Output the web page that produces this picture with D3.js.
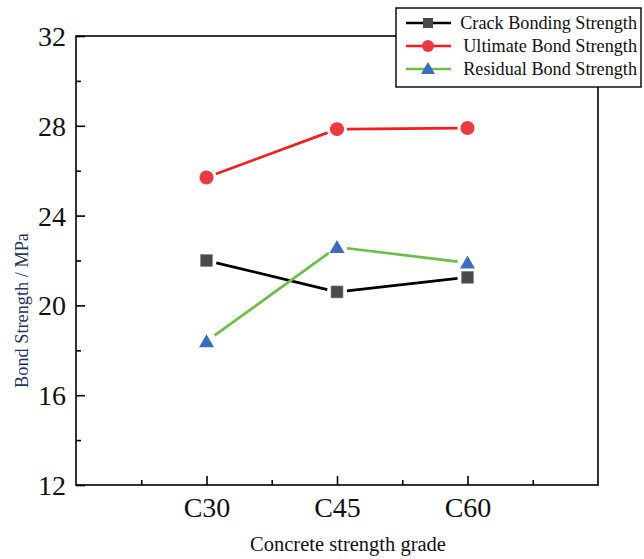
<!DOCTYPE html>
<html>
<head>
<meta charset="utf-8">
<script src="https://cdn.jsdelivr.net/npm/d3@7"></script>
<style>
  html, body { margin: 0; padding: 0; background: #fff; }
  svg { display: block; }
  svg text { font-family: "Liberation Serif", "Times New Roman", serif; }
</style>
</head>
<body>
<svg id="chart" width="644" height="559" font-family="Liberation Serif, serif"></svg>
<script>
// Concrete grades and bond strengths (MPa)
const grades = ["C30", "C45", "C60"];
const crackBonding = [22.0, 20.6, 21.25];
const ultimateBond = [25.7, 27.85, 27.9];
const residualBond = [18.4, 22.6, 21.9];
const yTicks = [12, 16, 20, 24, 28, 32];
const yMinorTicks = [14, 18, 22, 26, 30];

const seriesList = [
  { name: "Crack Bonding Strength", values: crackBonding, line: "#000000", fill: "#4a4a4a", shape: "square" },
  { name: "Ultimate Bond Strength", values: ultimateBond, line: "#f41e1e", fill: "#ee3a3f", shape: "circle" },
  { name: "Residual Bond Strength", values: residualBond, line: "#6cbf45", fill: "#3a6cc0", shape: "triangle" }
];

const svg = d3.select("#chart");
const frame = { left: 76, right: 598, top: 36, bottom: 485 };

const x = d3.scaleLinear().domain([0, grades.length + 1]).range([frame.left, frame.right]);
const y = d3.scaleLinear().domain([12, 32]).range([frame.bottom, frame.top]);

// plot frame
svg.append("rect")
  .attr("x", frame.left).attr("y", frame.top)
  .attr("width", frame.right - frame.left).attr("height", frame.bottom - frame.top)
  .attr("fill", "none").attr("stroke", "#000").attr("stroke-width", 1.6);

// left axis: inward major and minor ticks
const yAxis = svg.append("g").attr("transform", `translate(${frame.left},0)`)
  .call(d3.axisLeft(y).tickValues(yTicks).tickSize(-9).tickPadding(10).tickFormat(d3.format("d")));
svg.append("g").attr("transform", `translate(${frame.left},0)`)
  .call(d3.axisLeft(y).tickValues(yMinorTicks).tickSize(-5).tickFormat(""));

// bottom axis
const xAxis = svg.append("g").attr("transform", `translate(0,${frame.bottom})`)
  .call(d3.axisBottom(x).tickValues(grades.map((g, i) => i + 1)).tickSize(-9).tickPadding(13)
    .tickFormat((d) => grades[d - 1]));
svg.append("g").attr("transform", `translate(0,${frame.bottom})`)
  .call(d3.axisBottom(x).tickValues(d3.range(0.5, grades.length + 1, 1)).tickSize(-5).tickFormat(""));

svg.selectAll("g").attr("font-family", null).attr("font-size", null);
svg.selectAll(".domain").remove();
svg.selectAll(".tick line").attr("stroke", "#000").attr("stroke-width", 1.6);
svg.selectAll(".tick text").attr("fill", "#111").style("font-size", "28px");
yAxis.selectAll(".tick text").attr("dy", "0.34em");
xAxis.selectAll(".tick text").attr("dy", "0.68em");

// axis titles
svg.append("text")
  .attr("x", 348).attr("y", 551)
  .attr("text-anchor", "middle").attr("fill", "#111")
  .style("font-size", "20.5px")
  .text("Concrete strength grade");

svg.append("text")
  .attr("transform", `translate(28,${(frame.top + frame.bottom) / 2 + 50}) rotate(-90)`)
  .attr("text-anchor", "middle").attr("fill", "#1f3560")
  .style("font-size", "18.3px")
  .text("Bond Strength / MPa");

// marker drawing
function drawMarker(g, shape, cx, cy, fill) {
  if (shape === "square") {
    g.append("rect").attr("x", cx - 6).attr("y", cy - 6).attr("width", 12).attr("height", 12)
      .attr("fill", fill).attr("stroke", "#8a8a8a").attr("stroke-width", 0.6);
  } else if (shape === "circle") {
    g.append("circle").attr("cx", cx).attr("cy", cy).attr("r", 7).attr("fill", fill);
  } else {
    const h = 13, w = 15;
    g.append("path")
      .attr("d", `M${cx},${cy - h * 0.55}L${cx + w / 2},${cy + h * 0.45}L${cx - w / 2},${cy + h * 0.45}Z`)
      .attr("fill", fill);
  }
}

// series: segments stop short of markers, leaving a small gap
const gap = 10;
const plot = svg.append("g");
seriesList.forEach((s) => {
  const pts = s.values.map((v, i) => [x(i + 1), y(v)]);
  for (let i = 0; i < pts.length - 1; i++) {
    const [x0, y0] = pts[i], [x1, y1] = pts[i + 1];
    const len = Math.hypot(x1 - x0, y1 - y0);
    const ux = (x1 - x0) / len, uy = (y1 - y0) / len;
    plot.append("line")
      .attr("x1", x0 + ux * gap).attr("y1", y0 + uy * gap)
      .attr("x2", x1 - ux * gap).attr("y2", y1 - uy * gap)
      .attr("stroke", s.line).attr("stroke-width", 2.7);
  }
});
seriesList.forEach((s) => {
  s.values.forEach((v, i) => drawMarker(plot, s.shape, x(i + 1), y(v), s.fill));
});

// legend
const lg = svg.append("g");
lg.append("rect").attr("x", 396).attr("y", 8).attr("width", 245).attr("height", 79)
  .attr("fill", "#fff").attr("stroke", "#000").attr("stroke-width", 1.4);
seriesList.forEach((s, i) => {
  const cy = 23 + i * 23;
  lg.append("line").attr("x1", 406).attr("x2", 451).attr("y1", cy).attr("y2", cy)
    .attr("stroke", s.line).attr("stroke-width", 2.7);
  const mg = lg.append("g");
  if (s.shape === "square") {
    mg.append("rect").attr("x", 423).attr("y", cy - 5).attr("width", 10).attr("height", 10).attr("fill", s.fill);
  } else if (s.shape === "circle") {
    mg.append("circle").attr("cx", 428).attr("cy", cy).attr("r", 6).attr("fill", s.fill);
  } else {
    mg.append("path").attr("d", `M428,${cy - 7}L435,${cy + 5}L421,${cy + 5}Z`).attr("fill", s.fill);
  }
  lg.append("text").attr("x", 637).attr("y", cy).attr("dy", "0.33em")
    .attr("text-anchor", "end").attr("fill", "#111")
    .style("font-size", "18.2px")
    .text(s.name);
});
</script>
</body>
</html>
